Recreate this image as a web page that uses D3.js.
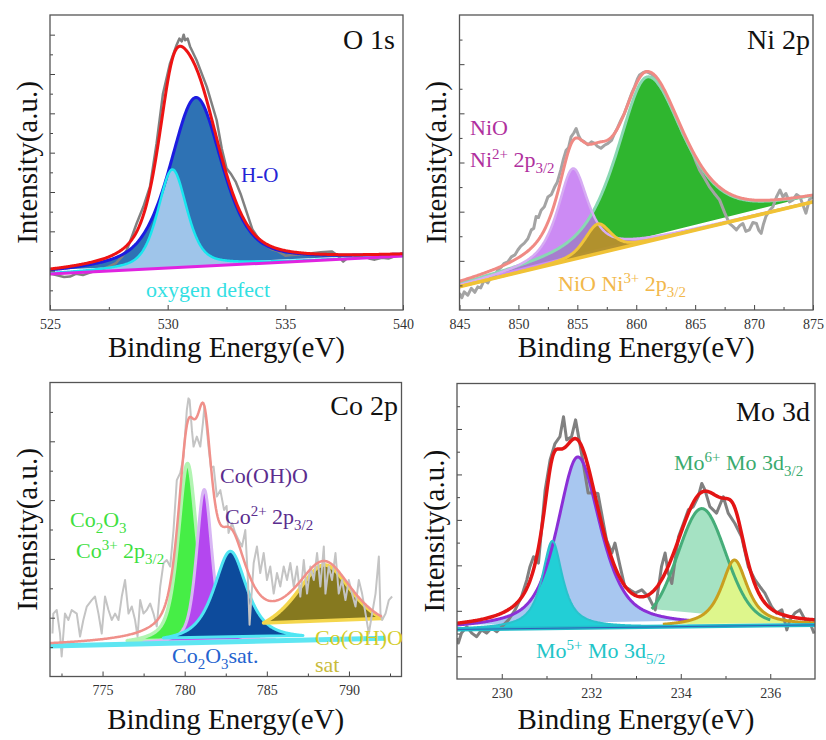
<!DOCTYPE html>
<html>
<head>
<meta charset="utf-8">
<script src="https://cdn.jsdelivr.net/npm/d3@7"></script>
<style>
  body { margin: 0; background: #fff; }
  text { white-space: pre; }
</style>
</head>
<body>
<div id="chart"></div>
<script>
'use strict';

/* ---------------- data: O 1s ---------------- */
const O1S_X_MAJOR = [525, 530, 535, 540];
const O1S_X_MINOR = [527.5, 532.5, 537.5];
const O1S_Y_MAJOR = [1, 2, 3, 4, 5, 6, 7];
const O1S_Y_MINOR = [0.5, 1.5, 2.5, 3.5, 4.5, 5.5, 6.5];
const O1S_BASELINE = [[525, 0.915], [540, 1.37]];
// fitted components: centre (eV), height above baseline, FWHM (eV), Lorentzian share
const O1S_PEAKS = [
  { name: 'H-O', center: 531.2, height: 4.3, fwhm: 2.65, eta: 0.55, from: 525, to: 540 },
  { name: 'oxygen defect', center: 530.2, height: 2.5, fwhm: 1.45, eta: 0.5, from: 525, to: 540 }
];
const O1S_RAW = [
  [525.0, 0.93], [525.3, 0.88], [525.6, 0.84], [525.85, 0.85], [526.1, 0.92], [526.4, 0.89],
  [526.7, 0.95], [527.1, 1.02], [527.4, 1.08], [527.8, 1.19], [528.05, 1.35], [528.26, 1.52],
  [528.5, 1.9], [528.68, 2.2], [528.97, 2.63], [529.25, 3.14], [529.53, 4.24], [529.8, 5.5],
  [530.1, 6.27], [530.38, 6.74], [530.5, 6.9], [530.6, 6.83], [530.68, 7.0], [530.74, 6.86],
  [530.85, 6.9], [530.95, 6.7], [531.23, 6.35], [531.66, 5.68], [532.08, 4.83], [532.3, 4.1],
  [532.5, 3.6], [532.7, 3.45], [532.9, 3.25], [533.1, 2.95], [533.35, 2.5], [533.6, 2.05],
  [533.9, 1.78], [534.14, 1.65], [534.4, 1.55], [534.7, 1.49], [535.0, 1.38], [535.27, 1.4],
  [535.7, 1.42], [536.12, 1.44], [536.5, 1.47], [536.97, 1.49], [537.2, 1.4], [537.46, 1.23],
  [537.6, 1.3], [537.82, 1.31], [538.1, 1.36], [538.39, 1.36], [538.6, 1.3], [538.8, 1.28],
  [539.1, 1.33], [539.38, 1.31], [539.7, 1.38], [539.94, 1.4]
];

/* ---------------- data: Ni 2p ---------------- */
const NI_X_MAJOR = [845, 850, 855, 860, 865, 870, 875];
const NI_X_MINOR = [847.5, 852.5, 857.5, 862.5, 867.5, 872.5];
const NI_Y_MAJOR = [1, 2, 3, 4, 5];
const NI_Y_MINOR = [0.5, 1.5, 2.5, 3.5, 4.5, 5.5];
const NI_BASELINE = [[845, 0.474], [875, 2.2]];
const NI_PEAKS = [
  { name: 'satellite', center: 860.9, height: 3.35, fwhm: 6.0, fwhmRight: 7.4, eta: 0.6, from: 845, to: 875 },
  { name: 'NiO Ni2+ 2p3/2', center: 854.62, height: 1.85, fwhm: 3.1, eta: 0.8, from: 845, to: 875 },
  { name: 'NiO Ni3+ 2p3/2', center: 856.74, height: 0.6, fwhm: 2.6, eta: 0.5, from: 845, to: 875 }
];
const NI_RAW = [
  [845.0, 0.34], [845.2, 0.25], [845.4, 0.37], [845.7, 0.3], [846.0, 0.44], [846.3, 0.36],
  [846.55, 0.47], [846.8, 0.45], [847.1, 0.61], [847.4, 0.55], [847.7, 0.68], [848.0, 0.7],
  [848.25, 0.81], [848.5, 0.86], [848.8, 0.95], [849.1, 0.98], [849.4, 1.08], [849.7, 1.12],
  [849.95, 1.22], [850.2, 1.3], [850.5, 1.36], [850.8, 1.45], [851.1, 1.63], [851.3, 1.66],
  [851.5, 1.9], [851.7, 1.88], [851.93, 2.03], [852.2, 2.1], [852.5, 2.3], [852.8, 2.35],
  [853.07, 2.5], [853.3, 2.6], [853.6, 2.85], [853.8, 3.05], [854.05, 3.25], [854.25, 3.3],
  [854.47, 3.52], [854.7, 3.6], [854.9, 3.69], [855.1, 3.55], [855.3, 3.46], [855.6, 3.42],
  [855.9, 3.36], [856.2, 3.42], [856.46, 3.39], [856.7, 3.33], [857.0, 3.29], [857.3, 3.35],
  [857.6, 3.39], [857.9, 3.45], [858.16, 3.59], [858.4, 3.7], [858.7, 3.86], [859.0, 4.0],
  [859.3, 4.2], [859.6, 4.4], [859.86, 4.54], [860.1, 4.7], [860.28, 4.78], [860.6, 4.83],
  [860.84, 4.85], [861.1, 4.82], [861.4, 4.78], [861.8, 4.62], [862.26, 4.47], [862.7, 4.27],
  [863.1, 4.07], [863.5, 3.85], [863.96, 3.59], [864.4, 3.38], [864.8, 3.19], [865.1, 3.0],
  [865.37, 2.85], [865.8, 2.68], [866.2, 2.51], [866.6, 2.38], [867.07, 2.24], [867.5, 1.98],
  [867.9, 1.76], [868.2, 1.7], [868.5, 1.63], [868.8, 1.72], [869.05, 1.76], [869.3, 1.6],
  [869.6, 1.63], [869.9, 1.78], [870.2, 1.76], [870.4, 1.62], [870.6, 1.56], [870.8, 1.75],
  [871.0, 1.9], [871.3, 2.02], [871.6, 2.1], [871.9, 2.3], [872.2, 2.44], [872.45, 2.3],
  [872.7, 2.37], [873.0, 2.2], [873.3, 2.24], [873.6, 2.35], [873.9, 2.3], [874.2, 2.1],
  [874.4, 1.97], [874.7, 2.25], [875.0, 2.3]
];

/* ---------------- data: Co 2p ---------------- */
const CO_X_MAJOR = [775, 780, 785, 790];
const CO_X_MINOR = [772.5, 777.5, 782.5, 787.5, 792.5];
const CO_Y_MAJOR = [1, 2, 3, 4];
const CO_Y_MINOR = [0.5, 1.5, 2.5, 3.5, 4.5];
const CO_BASELINE = [[771.8, 0.52], [792.2, 0.65]];
const CO_PEAKS = [
  { name: 'Co2O3 Co3+ 2p3/2', center: 780.17, height: 3.05, fwhm: 1.35, eta: 0.6, from: 776.5, to: 784.5 },
  { name: 'Co(OH)O Co2+ 2p3/2', center: 781.19, height: 2.6, fwhm: 1.1, eta: 0.5, from: 777.5, to: 785.5 },
  { name: 'Co2O3 sat.', center: 782.78, height: 1.54, fwhm: 2.4, eta: 0.75, from: 778.7, to: 787.2 },
  { name: 'Co(OH)O sat', center: 788.5, height: 1.27, fwhm: 4.4, eta: 0.85, from: 784.8, to: 792.0 }
];
const CO_RAW = [
  [771.95, 0.73], [772.0, 1.07], [772.21, 1.13], [772.41, 0.73], [772.51, 0.34], [772.71, 1.07],
  [772.92, 0.96], [773.12, 1.13], [773.43, 1.07], [773.63, 0.68], [773.83, 0.96], [774.04, 1.19],
  [774.34, 1.30], [774.54, 1.36], [774.75, 1.07], [774.95, 0.73], [775.15, 1.36], [775.36, 1.13],
  [775.56, 0.96], [775.76, 1.07], [775.97, 0.96], [776.17, 1.36], [776.37, 1.64], [776.58, 1.07],
  [776.78, 1.19], [776.98, 0.96], [777.13, 0.68], [777.29, 1.30], [777.49, 1.07], [777.69, 1.13],
  [777.9, 1.24], [778.1, 1.07], [778.3, 0.85], [778.51, 1.53], [778.71, 1.93], [778.91, 1.98],
  [779.12, 1.87], [779.32, 2.49], [779.52, 3.34], [779.73, 3.46], [779.93, 3.74], [780.13, 4.53],
  [780.23, 4.73], [780.3, 4.70], [780.44, 4.19], [780.54, 3.91], [780.74, 4.08], [780.95, 3.91],
  [781.11, 4.31], [781.2, 4.59], [781.25, 4.48], [781.45, 3.91], [781.6, 3.55], [781.76, 3.57],
  [781.96, 3.06], [782.17, 3.17], [782.4, 2.83], [782.55, 2.9], [782.67, 2.44], [782.88, 2.61],
  [783.08, 2.44], [783.28, 2.32], [783.49, 2.21], [783.69, 2.49], [783.85, 1.64], [783.95, 0.88],
  [784.2, 1.93], [784.4, 2.21], [784.6, 1.76], [784.81, 2.10], [785.01, 1.64], [785.21, 1.87],
  [785.42, 1.41], [785.62, 1.76], [785.82, 1.53], [786.03, 1.87], [786.23, 1.64], [786.43, 1.93],
  [786.64, 1.53], [786.84, 1.87], [787.04, 1.36], [787.25, 1.98], [787.45, 1.41], [787.65, 1.87],
  [787.86, 1.64], [788.06, 2.10], [788.26, 1.53], [788.47, 2.21], [788.57, 1.41], [788.77, 1.87],
  [788.97, 1.64], [789.18, 2.10], [789.38, 1.41], [789.58, 1.64], [789.79, 1.30], [789.99, 1.64],
  [790.19, 1.41], [790.4, 1.19], [790.6, 1.64], [790.8, 1.41], [791.01, 1.07], [791.21, 0.73],
  [791.41, 1.07], [791.62, 1.41], [791.82, 2.04], [791.92, 1.07], [792.02, 0.96], [792.23, 1.07],
  [792.43, 1.30], [792.63, 1.36]
];

/* ---------------- data: Mo 3d ---------------- */
const MO_X_MAJOR = [230, 232, 234, 236];
const MO_X_MINOR = [231, 233, 235];
const MO_Y_MAJOR = [0, 1, 2, 3, 4, 5];
const MO_Y_MINOR = [0.5, 1.5, 2.5, 3.5, 4.5, 5.5];
const MO_BASELINE = [[229, 0.59], [237, 0.69]];
const MO_PEAKS = [
  { name: 'Mo 3d main', center: 231.7, height: 3.76, fwhm: 1.1, fwhmRight: 1.2, eta: 0.65, from: 229, to: 234.2 },
  { name: 'Mo5+ Mo 3d5/2', center: 231.13, height: 1.92, fwhm: 0.55, eta: 0.9, from: 229, to: 237 },
  { name: 'Mo6+ Mo 3d3/2', center: 234.47, height: 2.59, fwhm: 1.3, eta: 0.2, from: 233.35, to: 236.0 },
  { name: 'Mo 3d high', center: 235.2, height: 1.45, fwhm: 0.7, eta: 0.85, from: 233.6, to: 237 }
];
const MO_RAW = [
  [229.0, 0.40], [229.03, 0.29], [229.1, 0.51], [229.22, 0.65], [229.33, 0.51], [229.44, 0.43],
  [229.55, 0.58], [229.66, 0.51], [229.77, 0.62], [229.89, 0.54], [230.0, 0.65], [230.15, 0.80],
  [230.3, 1.02], [230.44, 1.31], [230.56, 1.68], [230.63, 1.97], [230.71, 2.19], [230.82, 2.05],
  [230.97, 3.66], [231.08, 4.32], [231.19, 4.68], [231.3, 4.83], [231.38, 5.27], [231.45, 4.76],
  [231.56, 4.83], [231.65, 5.20], [231.73, 4.76], [231.82, 4.25], [231.93, 3.59], [232.08, 3.59],
  [232.15, 3.58], [232.23, 3.15], [232.34, 2.56], [232.46, 2.27], [232.53, 2.49], [232.64, 2.0],
  [232.75, 1.53], [232.87, 1.46], [232.98, 1.39], [233.13, 1.46], [233.28, 1.31], [233.43, 1.02],
  [233.57, 1.97], [233.65, 2.27], [233.72, 1.83], [233.8, 1.6], [233.95, 2.63], [234.06, 2.92],
  [234.17, 3.22], [234.28, 3.29], [234.39, 3.51], [234.47, 3.8], [234.54, 3.66], [234.65, 3.29],
  [234.8, 3.15], [234.95, 3.51], [235.06, 3.15], [235.21, 2.92], [235.36, 2.63], [235.51, 1.97],
  [235.66, 1.68], [235.77, 1.53], [235.88, 1.39], [236.03, 1.09], [236.14, 0.95], [236.26, 1.02],
  [236.37, 0.58], [236.44, 0.8], [236.55, 0.95], [236.66, 1.02], [236.78, 0.8], [236.89, 0.73],
  [236.98, 0.5]
];

/* ---------------- annotation texts ---------------- */
const O1S_TEXTS = [[['H-O']], [['oxygen defect']]];
const NI_TEXTS = [
  [['NiO']],
  [['Ni'], ['2+', 'sup'], [' 2p'], ['3/2', 'sub']],
  [['NiO Ni'], ['3+', 'sup'], [' 2p'], ['3/2', 'sub']]
];
const CO_TEXTS = [
  [['Co'], ['2', 'sub'], ['O'], ['3', 'sub']],
  [['Co'], ['3+', 'sup'], [' 2p'], ['3/2', 'sub']],
  [['Co(OH)O']],
  [['Co'], ['2+', 'sup'], [' 2p'], ['3/2', 'sub']],
  [['Co'], ['2', 'sub'], ['O'], ['3', 'sub'], ['sat.']],
  [['Co(OH)O']],
  [['sat']]
];
const MO_TEXTS = [
  [['Mo'], ['6+', 'sup'], [' Mo 3d'], ['3/2', 'sub']],
  [['Mo'], ['5+', 'sup'], [' Mo 3d'], ['5/2', 'sub']]
];
const PANEL_TITLES = ['O 1s', 'Ni 2p', 'Co 2p', 'Mo 3d'];
const X_TITLE = 'Binding Energy(eV)';
const Y_TITLE = 'Intensity(a.u.)';

/* ---------------- layout and style ---------------- */
const FONT = '"Liberation Serif", "Times New Roman", "DejaVu Serif", serif';

const PANELS = [
  {
    id: 'o1s', left: 50, right: 403, top: 15, bottom: 310,
    xDomain: [525, 540], yDomain: [0, 7.5],
    xMajor: O1S_X_MAJOR, xMinor: O1S_X_MINOR, yMajor: O1S_Y_MAJOR, yMinor: O1S_Y_MINOR,
    baseline: O1S_BASELINE, peaks: O1S_PEAKS, raw: O1S_RAW, envelopeRange: [525, 540],
    title: PANEL_TITLES[0], titlePos: [395, 49], xTitleY: 357, yTitleX: 37,
    peakStyles: [
      { fill: '#2e72b4', stroke: '#1c1ce0', width: 3 },
      { fill: '#9fc5ea', stroke: '#19e6ef', width: 2.5 }
    ],
    rawStyle: { stroke: '#808080', width: 2.5 },
    baselineStyles: [{ stroke: '#e023e0', width: 3 }],
    envelopeStyle: { stroke: '#ee1313', width: 3 },
    texts: O1S_TEXTS,
    textStyles: [
      { x: 241, y: 182, size: 21, color: '#2424d6' },
      { x: 146, y: 297, size: 22, color: '#33e0e3' }
    ]
  },
  {
    id: 'ni2p', left: 459.5, right: 813, top: 15, bottom: 310,
    xDomain: [845, 875], yDomain: [0, 6],
    xMajor: NI_X_MAJOR, xMinor: NI_X_MINOR, yMajor: NI_Y_MAJOR, yMinor: NI_Y_MINOR,
    baseline: NI_BASELINE, peaks: NI_PEAKS, raw: NI_RAW, envelopeRange: [845, 875],
    title: PANEL_TITLES[1], titlePos: [810, 49], xTitleY: 357, yTitleX: 446,
    peakStyles: [
      { fill: '#2fb62f', stroke: '#8ad8b4', width: 3 },
      { fill: '#c172f2', opacity: 0.82, stroke: '#d6acf3', width: 2.5 },
      { fill: '#b2921f', opacity: 0.92, stroke: '#f0c43a', width: 3 }
    ],
    rawStyle: { stroke: '#a4a4a4', width: 3 },
    baselineStyles: [{ stroke: '#f0c236', width: 3.5 }],
    envelopeStyle: { stroke: '#f08a84', width: 3 },
    texts: NI_TEXTS,
    textStyles: [
      { x: 470, y: 135, size: 22, color: '#b0309e' },
      { x: 470, y: 167, size: 22, color: '#b0309e' },
      { x: 558, y: 291, size: 22, color: '#f2b84b' }
    ]
  },
  {
    id: 'co2p', left: 50, right: 401.5, top: 382.5, bottom: 676.5,
    xDomain: [771.8, 793.2], yDomain: [0, 5],
    xMajor: CO_X_MAJOR, xMinor: CO_X_MINOR, yMajor: CO_Y_MAJOR, yMinor: CO_Y_MINOR,
    baseline: CO_BASELINE, peaks: CO_PEAKS, raw: CO_RAW, envelopeRange: [771.8, 792.0],
    title: PANEL_TITLES[2], titlePos: [398, 415], xTitleY: 729, yTitleX: 37,
    peakStyles: [
      { fill: '#46ee46', stroke: '#b2f4b2', width: 3.5, closed: true },
      { fill: '#b447ef', stroke: '#d8b6f4', width: 3, closed: true },
      { fill: '#0d4b9c', stroke: '#4fe6f3', width: 3, closed: true },
      { fill: '#86791f', stroke: '#f4d64c', width: 3.5, closed: true }
    ],
    rawStyle: { stroke: '#c4c4c4', width: 2 },
    baselineStyles: [{ stroke: '#5ee6f2', width: 5 }],
    envelopeStyle: { stroke: '#f0908a', width: 2.5 },
    texts: CO_TEXTS,
    textStyles: [
      { x: 70, y: 527, size: 22, color: '#3fe03f' },
      { x: 76, y: 558, size: 22, color: '#3fe03f' },
      { x: 220, y: 483, size: 22, color: '#5b2d8e' },
      { x: 225, y: 524, size: 22, color: '#5b2d8e' },
      { x: 172, y: 663, size: 22, color: '#2563cf' },
      { x: 315, y: 645, size: 22, color: '#d4cc2a' },
      { x: 315, y: 672, size: 22, color: '#c8bb3a' }
    ]
  },
  {
    id: 'mo3d', left: 457, right: 815, top: 383.5, bottom: 679,
    xDomain: [229, 237], yDomain: [-0.5, 6],
    xMajor: MO_X_MAJOR, xMinor: MO_X_MINOR, yMajor: MO_Y_MAJOR, yMinor: MO_Y_MINOR,
    baseline: MO_BASELINE, peaks: MO_PEAKS, raw: MO_RAW, envelopeRange: [229, 237],
    title: PANEL_TITLES[3], titlePos: [810, 421], xTitleY: 729, yTitleX: 443.5,
    peakStyles: [
      { fill: '#a8c7f0', stroke: '#8b2fd6', width: 3 },
      { fill: '#22cfd6', stroke: '#2ac2cc', width: 2 },
      { fill: '#a5e2c3', stroke: '#45ad79', width: 3 },
      { fill: '#def68c', stroke: '#c99f1f', width: 3 }
    ],
    rawStyle: { stroke: '#808080', width: 3 },
    baselineStyles: [{ stroke: '#22bccb', width: 4 }, { stroke: '#2f5fb8', width: 1 }],
    envelopeStyle: { stroke: '#e31515', width: 3.5 },
    texts: MO_TEXTS,
    textStyles: [
      { x: 674, y: 470, size: 22, color: '#3aaa6e' },
      { x: 536, y: 658, size: 22, color: '#22c5c8' }
    ]
  }
];

/* ---------------- helpers ---------------- */

/**
 * Pseudo-Voigt value of one fitted component at energy e (above baseline).
 */
function peakValue(pk, e) {
  const w = e < pk.center ? pk.fwhm : (pk.fwhmRight || pk.fwhm);
  const t = (e - pk.center) / w;
  const gauss = Math.exp(-4 * Math.LN2 * t * t);
  const lorentz = 1 / (1 + 4 * t * t);
  return pk.height * (pk.eta * lorentz + (1 - pk.eta) * gauss);
}

/** energies at which a fitted curve is evaluated */
function sampleRange(from, to) {
  const n = 400;
  return d3.range(n + 1).map(function (i) { return from + (to - from) * i / n; });
}

/** text with sub/superscript pieces */
function addRichText(parent, segs, st) {
  const t = parent.append('text')
    .attr('x', st.x).attr('y', st.y)
    .attr('font-family', FONT).attr('font-size', st.size)
    .attr('fill', st.color);
  let shift = 0;
  segs.forEach(function (s) {
    const kind = s[1];
    const target = kind === 'sup' ? -st.size * 0.38 : (kind === 'sub' ? st.size * 0.28 : 0);
    t.append('tspan')
      .attr('dy', target - shift)
      .attr('font-size', kind ? st.size * 0.68 : st.size)
      .text(s[0]);
    shift = target;
  });
}

function drawPanel(svg, p) {
  const x = d3.scaleLinear().domain(p.xDomain).range([p.left, p.right]);
  const y = d3.scaleLinear().domain(p.yDomain).range([p.bottom, p.top]);
  const base = d3.scaleLinear()
    .domain(p.baseline.map(function (d) { return d[0]; }))
    .range(p.baseline.map(function (d) { return d[1]; }));
  const line = d3.line().x(function (d) { return x(d[0]); }).y(function (d) { return y(d[1]); });

  const clipId = 'clip-' + p.id;
  svg.append('clipPath').attr('id', clipId).append('rect')
    .attr('x', p.left).attr('y', p.top)
    .attr('width', p.right - p.left).attr('height', p.bottom - p.top);
  const g = svg.append('g').attr('clip-path', 'url(#' + clipId + ')');

  const curves = p.peaks.map(function (pk) {
    return sampleRange(pk.from, pk.to).map(function (e) { return [e, base(e) + peakValue(pk, e)]; });
  });

  // component fills (closed by a chord between the curve ends)
  curves.forEach(function (c, i) {
    const st = p.peakStyles[i];
    g.append('path')
      .attr('d', line(c) + 'Z')
      .attr('fill', st.fill)
      .attr('fill-opacity', st.opacity || 1)
      .attr('stroke', st.closed ? st.stroke : 'none')
      .attr('stroke-width', st.width)
      .attr('stroke-linejoin', 'round');
  });

  // measured spectrum
  g.append('path')
    .attr('d', line(p.raw))
    .attr('fill', 'none')
    .attr('stroke', p.rawStyle.stroke)
    .attr('stroke-width', p.rawStyle.width)
    .attr('stroke-linejoin', 'round');

  // component outlines
  curves.forEach(function (c, i) {
    const st = p.peakStyles[i];
    if (st.closed) { return; }
    g.append('path')
      .attr('d', line(c))
      .attr('fill', 'none')
      .attr('stroke', st.stroke)
      .attr('stroke-width', st.width)
      .attr('stroke-linejoin', 'round');
  });

  // background line
  p.baselineStyles.forEach(function (st) {
    g.append('path')
      .attr('d', line(p.baseline))
      .attr('fill', 'none')
      .attr('stroke', st.stroke)
      .attr('stroke-width', st.width);
  });

  // fit envelope = background + all components
  const env = sampleRange(p.envelopeRange[0], p.envelopeRange[1]).map(function (e) {
    return [e, base(e) + d3.sum(p.peaks, function (pk) { return peakValue(pk, e); })];
  });
  g.append('path')
    .attr('d', line(env))
    .attr('fill', 'none')
    .attr('stroke', p.envelopeStyle.stroke)
    .attr('stroke-width', p.envelopeStyle.width)
    .attr('stroke-linejoin', 'round');

  // axes, ticks pointing inward
  const xa = svg.append('g').attr('transform', 'translate(0,' + p.bottom + ')')
    .call(d3.axisBottom(x).tickValues(p.xMajor).tickSize(-5).tickPadding(9).tickFormat(d3.format('d')));
  const xm = svg.append('g').attr('transform', 'translate(0,' + p.bottom + ')')
    .call(d3.axisBottom(x).tickValues(p.xMinor).tickSize(-3).tickFormat(''));
  const ya = svg.append('g').attr('transform', 'translate(' + p.left + ',0)')
    .call(d3.axisLeft(y).tickValues(p.yMajor).tickSize(-5).tickFormat(''));
  const ym = svg.append('g').attr('transform', 'translate(' + p.left + ',0)')
    .call(d3.axisLeft(y).tickValues(p.yMinor).tickSize(-3).tickFormat(''));
  [xa, xm, ya, ym].forEach(function (a) {
    a.select('.domain').remove();
    a.selectAll('line').attr('stroke', '#444');
  });
  xa.selectAll('text')
    .attr('font-family', FONT).attr('font-size', 14).attr('fill', '#333');

  // frame
  svg.append('rect')
    .attr('x', p.left).attr('y', p.top)
    .attr('width', p.right - p.left).attr('height', p.bottom - p.top)
    .attr('fill', 'none').attr('stroke', '#555').attr('stroke-width', 1.3);

  // axis titles
  svg.append('text')
    .attr('x', (p.left + p.right) / 2).attr('y', p.xTitleY)
    .attr('text-anchor', 'middle')
    .attr('font-family', FONT).attr('font-size', 29).attr('fill', '#111')
    .text(X_TITLE);
  svg.append('text')
    .attr('transform', 'translate(' + p.yTitleX + ',' + ((p.top + p.bottom) / 2) + ') rotate(-90)')
    .attr('text-anchor', 'middle')
    .attr('font-family', FONT).attr('font-size', 29).attr('fill', '#111')
    .text(Y_TITLE);

  // panel title
  svg.append('text')
    .attr('x', p.titlePos[0]).attr('y', p.titlePos[1])
    .attr('text-anchor', 'end')
    .attr('font-family', FONT).attr('font-size', 28).attr('fill', '#111')
    .text(p.title);

  // component labels
  p.texts.forEach(function (segs, i) {
    addRichText(svg, segs, p.textStyles[i]);
  });
}

const svg = d3.select('#chart').append('svg')
  .attr('width', 826).attr('height', 740)
  .style('display', 'block');

PANELS.forEach(function (p) { drawPanel(svg, p); });
</script>
</body>
</html>
